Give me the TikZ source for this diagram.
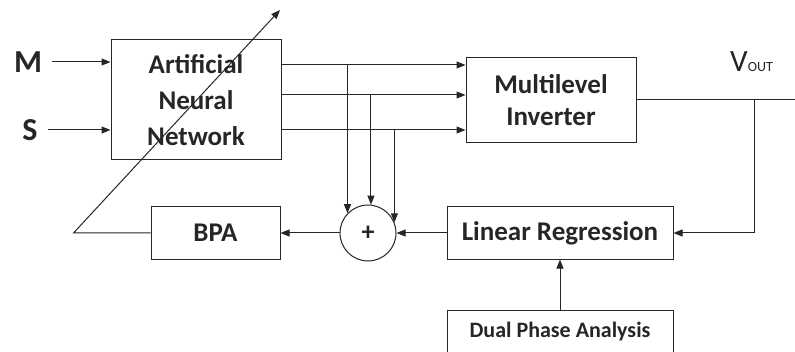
\documentclass[tikz,border=0pt]{standalone}
\usepackage{fontspec}
\setmainfont{Carlito}
\usetikzlibrary{arrows.meta,positioning}

\begin{document}
\begin{tikzpicture}[x=1pt,y=1pt,>={Triangle[length=9pt,width=7pt]},line width=1pt,color=black!85,
  blk/.style={draw,align=center,font=\bfseries\fontsize{27}{32}\selectfont},
  lbl/.style={inner sep=0pt,inner xsep=10pt,font=\bfseries\fontsize{32}{32}\selectfont}]
\useasboundingbox (0,0) rectangle (795,351);
\node[blk,minimum width=170pt,minimum height=120pt,font=\bfseries\fontsize{27}{36}\selectfont] (ann) at (196,251) {Artificial\\Neural\\Network};
\node[blk,right=184pt of ann,minimum width=170pt,minimum height=85pt] (mli) {Multilevel\\Inverter};
\node[draw,circle,minimum size=56pt,inner sep=0pt,font=\bfseries\fontsize{26}{26}\selectfont] (sum) at (368,118) {+};
\node[blk,left=59pt of sum,minimum width=129pt,minimum height=52pt] (bpa) {BPA};
\node[blk,right=50pt of sum,minimum width=226pt,minimum height=52pt] (lr) {Linear Regression};
\node[blk,below=50pt of lr,minimum width=226pt,minimum height=44pt,font=\bfseries\fontsize{22}{26}\selectfont] (dpa) {Dual Phase Analysis};
\node[lbl] (m) at (28,289) {M};
\node[lbl] (s) at (30,221) {S};
\draw[->] (m) -- (m -| ann.west);
\draw[->] (s) -- (s -| ann.west);
% outputs of the network, tapped into the summer
\foreach \i/\d/\a in {1/35/136,2/5/84,3/-30/22}{
  \coordinate (o\i) at ([yshift=\d pt]ann.east);
  \draw[->] (o\i) -- (o\i -| mli.west);
  \draw[->] (o\i -| sum.\a) -- (sum.\a);
}
\coordinate[right=165pt of mli.east] (vend);
\coordinate[right=118pt of mli.east] (vt);
\node[anchor=base,inner sep=0pt,font=\fontsize{31}{31}\selectfont] (vout) at ([xshift=-3pt,yshift=28pt]vt) {V{\fontsize{14}{14}\selectfont OUT}};
\draw (mli.east) -- (vend);
\draw[->] (vt) |- (lr.east);
\draw[->] (lr) -- (sum);
\draw[->] (sum) -- (bpa);
\draw[->] (dpa) -- (lr);
% weight update line through the network
\coordinate[left=77pt of bpa.west] (kn);
\coordinate (tip) at (280,341);
\draw[->] (bpa.west) -- (kn) -- (tip);
\end{tikzpicture}
\end{document}
